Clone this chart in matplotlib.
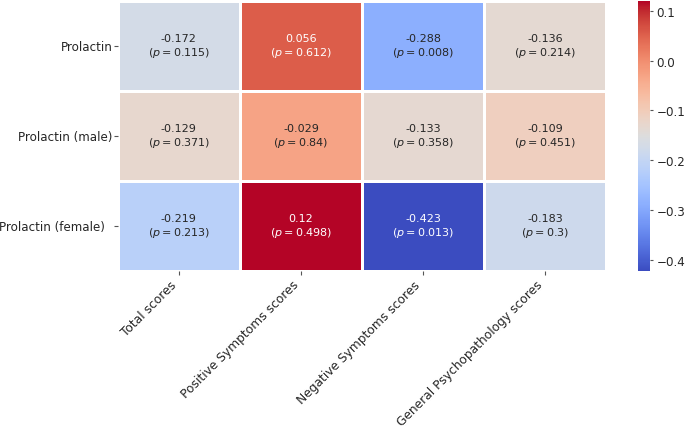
import numpy as np
import matplotlib
matplotlib.use("Agg")
import matplotlib.pyplot as plt
import seaborn as sns

rows = ["Prolactin", "Prolactin (male)", "Prolactin (female)  "]
cols = ["Total scores", "Positive Symptoms scores",
        "Negative Symptoms scores", "General Psychopathology scores"]

r_vals = [[-0.172, 0.056, -0.288, -0.136],
          [-0.129, -0.029, -0.133, -0.109],
          [-0.219, 0.12, -0.423, -0.183]]
p_vals = [["0.115", "0.612", "0.008", "0.214"],
          ["0.371", "0.84", "0.358", "0.451"],
          ["0.213", "0.498", "0.013", "0.3"]]

r = np.array(r_vals)
labels = np.array([[f"{r_vals[i][j]}\n($p = {p_vals[i][j]}$)" for j in range(4)]
                   for i in range(3)])

txt = "#262626"
fig = plt.figure(figsize=(6.85, 4.27), dpi=100)
ax = fig.add_axes([0.172, 0.363, 0.713, 0.632])
cax = fig.add_axes([0.931, 0.363, 0.0185, 0.632])

sns.heatmap(r, ax=ax, cbar_ax=cax, cmap="coolwarm", annot=labels, fmt="",
            linewidths=1, linecolor="white", annot_kws={"fontsize": 8},
            xticklabels=cols, yticklabels=rows)

ax.set_xticklabels(cols, rotation=45, ha="right", fontsize=8.8, color=txt)
ax.set_yticklabels(rows, rotation=0, fontsize=8.6, color=txt)
ax.tick_params(axis="x", length=3, pad=2, color="#555555")
ax.tick_params(axis="y", length=3, pad=1, color="#555555")
cax.tick_params(labelsize=8.6, length=2.5, pad=2, labelcolor=txt, color="#555555")

fig.savefig("out.png", dpi=100)
